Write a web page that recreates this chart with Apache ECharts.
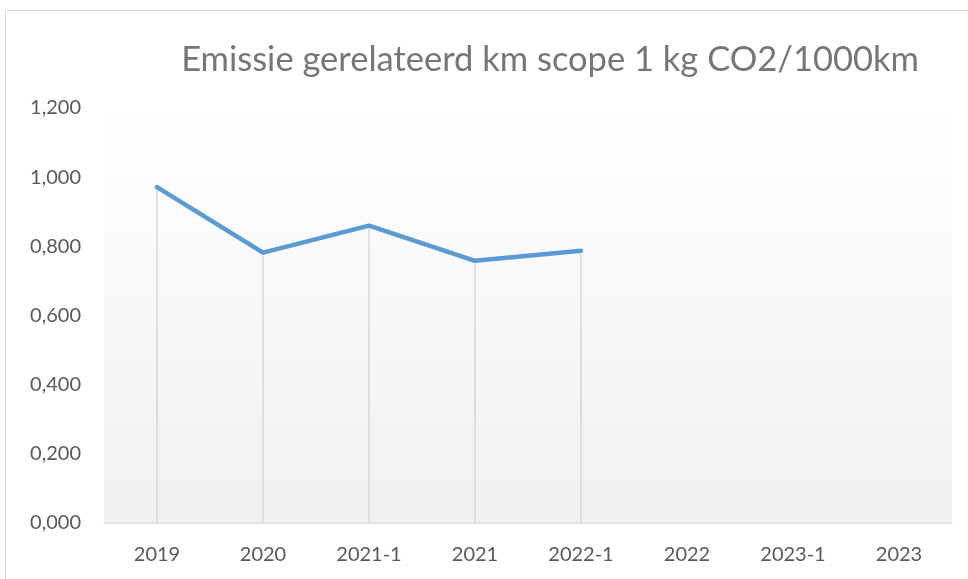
<!DOCTYPE html>
<html><head><meta charset="utf-8">
<script src="https://cdn.jsdelivr.net/npm/echarts@6/dist/echarts.min.js"></script>
<style>html,body{margin:0;padding:0;background:#fff}#c{width:968px;height:579px}</style>
</head><body><div id="c"></div>
<script>
var categories = ['2019','2020','2021-1','2021','2022-1','2022','2023-1','2023'];
var values = [0.971, 0.782, 0.860, 0.758, 0.787, null, null, null];
var yTicks = [0, 0.2, 0.4, 0.6, 0.8, 1.0, 1.2];
var titleText = 'Emissie gerelateerd km scope 1 kg CO2/1000km';

var chart = echarts.init(document.getElementById('c'));
chart.setOption({
  animation: false,
  textStyle: {fontFamily: 'Lato'},
  title: {text: titleText, left: 545, top: 37, textAlign: 'center',
    textStyle: {fontFamily: 'Lato', fontSize: 34.5, fontWeight: 'normal', color: '#767676'}},
  graphic: [{type: 'rect', shape: {x: 5.5, y: 10.5, width: 1000, height: 700},
    style: {fill: null, stroke: '#d9d9d9', lineWidth: 1}, silent: true, z: -1}],
  grid: {left: 104, right: 16, top: 108, bottom: 56, show: true, borderWidth: 0,
    backgroundColor: new echarts.graphic.LinearGradient(0, 0, 0, 1, [
      {offset: 0, color: '#ffffff'}, {offset: 1, color: '#f0f0f0'}])},
  xAxis: {type: 'category', data: categories, boundaryGap: true,
    axisLine: {lineStyle: {color: '#d9d9d9', width: 1.5}}, axisTick: {show: false},
    axisLabel: {color: '#595959', fontSize: 20, margin: 22}},
  yAxis: {type: 'value', min: 0, max: 1.2, interval: 0.2,
    axisLine: {show: false}, axisTick: {show: false}, splitLine: {show: false},
    axisLabel: {color: '#595959', fontSize: 20, margin: 23,
      formatter: function (v) { return v.toFixed(3).replace('.', ','); }}},
  series: [
    {type: 'bar', data: values, barWidth: 1.5, itemStyle: {color: '#d9d9d9'}, silent: true, z: 1},
    {type: 'line', data: values, symbol: 'none', lineStyle: {color: '#5b9bd5', width: 4.5, cap: 'round', join: 'round'}, z: 3}
  ]
});
</script></body></html>
